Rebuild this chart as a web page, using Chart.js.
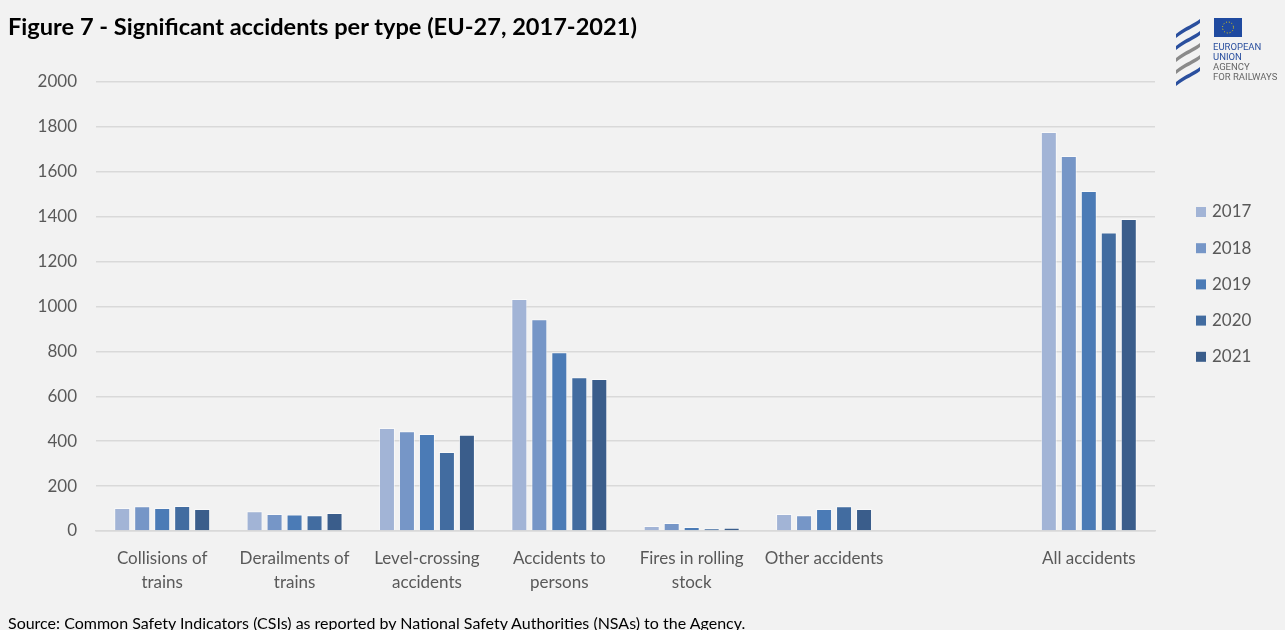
<!DOCTYPE html>
<html>
<head>
<meta charset="utf-8">
<script src="https://cdn.jsdelivr.net/npm/chart.js@4"></script>
<style>
  html, body { margin: 0; padding: 0; background: #f2f2f2; }
  body { width: 1285px; height: 630px; position: relative; overflow: hidden; font-family: Lato, "Open Sans", sans-serif; }
  #title { position: absolute; left: 8px; top: 12px; font-size: 23.6px; font-weight: bold; color: #000; white-space: nowrap; }
  #source { position: absolute; left: 8px; top: 613px; font-size: 16px; color: #000; white-space: nowrap; }
  #wrap { position: absolute; left: 0; top: 0; width: 1285px; height: 630px; }
  #logo { position: absolute; left: 1172px; top: 14px; }
</style>
</head>
<body>
<div id="wrap"><canvas id="myChart" width="1285" height="630"></canvas></div>
<div id="title">Figure 7 - Significant accidents per type (EU-27, 2017-2021)</div>
<div id="source">Source: Common Safety Indicators (CSIs) as reported by National Safety Authorities (NSAs) to the Agency.</div>
<svg id="logo" width="112" height="75" viewBox="0 0 112 75">
  <path d="M4 20 C14 12 22 10 28 5 L28 9 C22 14 14 16 4 24 Z" fill="#2a4f9e"/>
  <path d="M4 32 C14 24 22 22 28 17 L28 21 C22 26 14 28 4 36 Z" fill="#2a4f9e"/>
  <path d="M4 44 C14 36 22 34 28 29 L28 33 C22 38 14 40 4 48 Z" fill="#8a8a8a"/>
  <path d="M4 56 C14 48 22 46 28 41 L28 45 C22 50 14 52 4 60 Z" fill="#8a8a8a"/>
  <path d="M4 68 C14 60 22 58 28 53 L28 57 C22 62 14 64 4 72 Z" fill="#2a4f9e"/>
  <rect x="42" y="4" width="28" height="19" fill="#1f4aa0"/>
  <circle cx="56" cy="13.5" r="5.5" fill="none" stroke="#f5d800" stroke-width="1" stroke-dasharray="1 1.9"/>
  <text x="41" y="36" font-family="Roboto, sans-serif" font-size="9.5" fill="#2a4f9e">EUROPEAN</text>
  <text x="41" y="46" font-family="Roboto, sans-serif" font-size="9.5" fill="#2a4f9e">UNION</text>
  <text x="41" y="56" font-family="Roboto, sans-serif" font-size="9.5" fill="#666">AGENCY</text>
  <text x="41" y="66" font-family="Roboto, sans-serif" font-size="9.5" fill="#666">FOR RAILWAYS</text>
</svg>
<script>
const ctx = document.getElementById("myChart");

const categories = [
  ["Collisions of", "trains"],
  ["Derailments of", "trains"],
  ["Level-crossing", "accidents"],
  ["Accidents to", "persons"],
  ["Fires in rolling", "stock"],
  "Other accidents",
  "",
  "All accidents",
];
const years = ["2017", "2018", "2019", "2020", "2021"];
const v2017 = [102, 88, 459, 1033, 22, 76, null, 1777];
const v2018 = [110, 76, 444, 943, 36, 70, null, 1670];
const v2019 = [102, 73, 432, 796, 18, 98, null, 1514];
const v2020 = [111, 70, 352, 685, 12, 110, null, 1330];
const v2021 = [98, 80, 429, 677, 15, 98, null, 1390];
const yTicks = [0, 200, 400, 600, 800, 1000, 1200, 1400, 1600, 1800, 2000];

const seriesValues = [v2017, v2018, v2019, v2020, v2021];
const colors = ["#a2b4d6", "#7696c7", "#4b7bb6", "#426ca0", "#3a5d8b"];

// legend drawn at the right, like the original sheet
const sideLegend = {
  id: "sideLegend",
  afterDraw(chart) {
    const c = chart.ctx;
    c.save();
    c.font = "17px Lato";
    c.textBaseline = "middle";
    chart.data.datasets.forEach((ds, i) => {
      const y = 212 + i * 36.2;
      c.fillStyle = ds.backgroundColor;
      c.fillRect(1196, y - 5, 10, 10);
      c.fillStyle = "#595959";
      c.fillText(ds.label, 1212, y);
    });
    c.restore();
  },
};

new Chart(ctx, {
  type: "bar",
  data: {
    labels: categories,
    datasets: years.map((y, i) => ({
      label: y,
      data: seriesValues[i],
      backgroundColor: colors[i],
      borderColor: "rgba(255,255,255,0.55)",
      borderWidth: 1,
      categoryPercentage: 0.755,
      barPercentage: 0.8,
    })),
  },
  options: {
    responsive: false,
    animation: false,
    devicePixelRatio: 1,
    layout: {
      padding: { left: 0, right: 130, top: 82, bottom: 0 },
    },
    plugins: {
      legend: { display: false },
      tooltip: { enabled: false },
    },
    scales: {
      y: {
        min: 0,
        max: 2000,
        afterFit(scale) { scale.width = 96; },
        afterBuildTicks(scale) { scale.ticks = yTicks.map((v) => ({ value: v })); },
        border: { display: false },
        grid: { color: "#d9d9d9", lineWidth: 1.5, drawTicks: false },
        ticks: {
          color: "#595959",
          font: { family: "Lato", size: 17 },
          padding: 19,
          callback: (v) => String(v),
        },
      },
      x: {
        afterFit(scale) { scale.height = 99; },
        border: { color: "#d9d9d9", width: 1.5 },
        grid: { display: false },
        ticks: { color: "#595959", font: { family: "Lato", size: 17, lineHeight: 1.4 }, padding: 8, maxRotation: 0, autoSkip: false },
      },
    },
  },
  plugins: [sideLegend],
});
</script>
</body>
</html>
